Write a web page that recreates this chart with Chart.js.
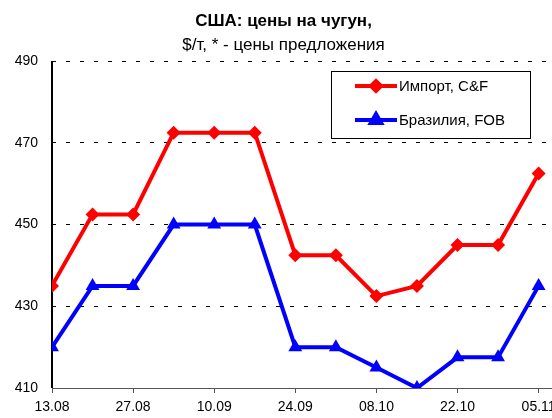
<!DOCTYPE html>
<html>
<head>
<meta charset="utf-8">
<script src="https://cdn.jsdelivr.net/npm/chart.js@4/dist/chart.umd.min.js"></script>
<style>
  html, body { margin: 0; padding: 0; background: #fff; overflow: hidden; }
  #wrap { width: 580px; height: 418px; }
</style>
</head>
<body>
<div id="wrap"><canvas id="c" width="580" height="418"></canvas></div>
<script>
const titleText = 'США: цены на чугун,';
const subtitleText = '$/т, * - цены предложения';
const dates = ['13.08','20.08','27.08','03.09','10.09','17.09','24.09','01.10','08.10','15.10','22.10','29.10','05.11'];
const importName = 'Импорт, C&F';
const importCF = [435, 452.5, 452.5, 472.5, 472.5, 472.5, 442.5, 442.5, 432.5, 435, 445, 445, 462.5];
const brazilName = 'Бразилия, FOB';
const brazilFOB = [420, 435, 435, 450, 450, 450, 420, 420, 415, 410, 417.5, 417.5, 435];
const yTicks = [410, 430, 450, 470, 490];

const FONT = "'Liberation Sans', Arial, sans-serif";
const RED = '#FF0000', BLUE = '#0000FF';

const toPts = arr => arr.map((v, i) => ({x: i, y: v}));

const axisPlugin = {
  id: 'axisLines',
  beforeDatasetsDraw(chart) {
    const {ctx} = chart;
    const xs = chart.scales.x, ys = chart.scales.y;
    const x0 = Math.round(xs.getPixelForValue(0));
    const yTop = Math.round(ys.getPixelForValue(ys.max));
    const yBot = Math.round(ys.getPixelForValue(ys.min));
    ctx.save();
    ctx.setLineDash([]);
    ctx.fillStyle = '#000';
    ctx.fillRect(x0 - 1, yTop, 2, yBot - yTop);
    ctx.restore();
  }
};

const legendPlugin = {
  id: 'boxLegend',
  afterDraw(chart) {
    const ctx = chart.ctx;
    ctx.save();
    ctx.fillStyle = '#fff';
    ctx.fillRect(331.5, 71.5, 199, 67);
    ctx.strokeStyle = '#000';
    ctx.lineWidth = 1;
    ctx.strokeRect(331.5, 71.5, 199, 67);
    const items = chart.data.datasets;
    const rows = [86, 120];
    items.forEach((ds, k) => {
      const y = rows[k];
      ctx.strokeStyle = ds.borderColor;
      ctx.lineWidth = 4;
      ctx.beginPath(); ctx.moveTo(355, y); ctx.lineTo(397, y); ctx.stroke();
      Chart.helpers.drawPoint(ctx, {pointStyle: ds.pointStyle, radius: k === 0 ? 5 : 6, borderWidth: 1}, 376, y);
      ctx.fillStyle = ds.backgroundColor;
      ctx.fill();
      ctx.fillStyle = '#000';
      ctx.font = '15px ' + FONT;
      ctx.textBaseline = 'middle';
      ctx.textAlign = 'left';
      ctx.fillText(ds.label, 399, y + 1);
    });
    ctx.restore();
  }
};

new Chart(document.getElementById('c'), {
  type: 'line',
  data: {
    datasets: [
      {
        label: importName, data: toPts(importCF),
        borderColor: RED, backgroundColor: RED, borderWidth: 4,
        pointStyle: 'rectRot', pointRadius: 7, pointBorderWidth: 0, tension: 0
      },
      {
        label: brazilName, data: toPts(brazilFOB),
        borderColor: BLUE, backgroundColor: BLUE, borderWidth: 4,
        pointStyle: 'triangle', pointRadius: 8, pointBorderWidth: 0, tension: 0
      }
    ]
  },
  options: {
    responsive: false,
    animation: false,
    devicePixelRatio: 1,
    layout: { padding: { left: 0, right: 13, top: 0, bottom: 0 } },
    plugins: {
      legend: { display: false },
      tooltip: { enabled: false },
      title: {
        display: true, text: titleText, color: '#000',
        font: { family: FONT, size: 17, weight: 'bold' },
        padding: { top: 11, bottom: 3.6 }
      },
      subtitle: {
        display: true, text: subtitleText, color: '#000',
        font: { family: FONT, size: 17, weight: 'normal' },
        padding: { top: 0, bottom: 5.8 }
      }
    },
    scales: {
      x: {
        type: 'linear', min: 0, max: 12.7,
        afterBuildTicks: s => { s.ticks = dates.map((d, i) => ({value: i})).filter(t => t.value % 2 === 0); },
        afterFit: s => { s.height = 30; },
        ticks: {
          autoSkip: false, maxRotation: 0, color: '#000', padding: 6,
          font: { family: FONT, size: 14 },
          callback: v => dates[v] ?? ''
        },
        grid: { drawOnChartArea: false, drawTicks: true, tickLength: 5, color: '#555', lineWidth: 1 },
        border: { display: true, color: '#555', width: 1 }
      },
      y: {
        min: 410, max: 490,
        afterBuildTicks: s => { s.ticks = yTicks.map(v => ({value: v})); },
        afterFit: s => { s.width = 52; },
        ticks: { color: '#000', padding: 14, font: { family: FONT, size: 14 } },
        grid: { color: '#000', lineWidth: 1, drawTicks: false },
        border: { display: false, dash: [4, 10] }
      }
    }
  },
  plugins: [legendPlugin, axisPlugin]
});
</script>
</body>
</html>
